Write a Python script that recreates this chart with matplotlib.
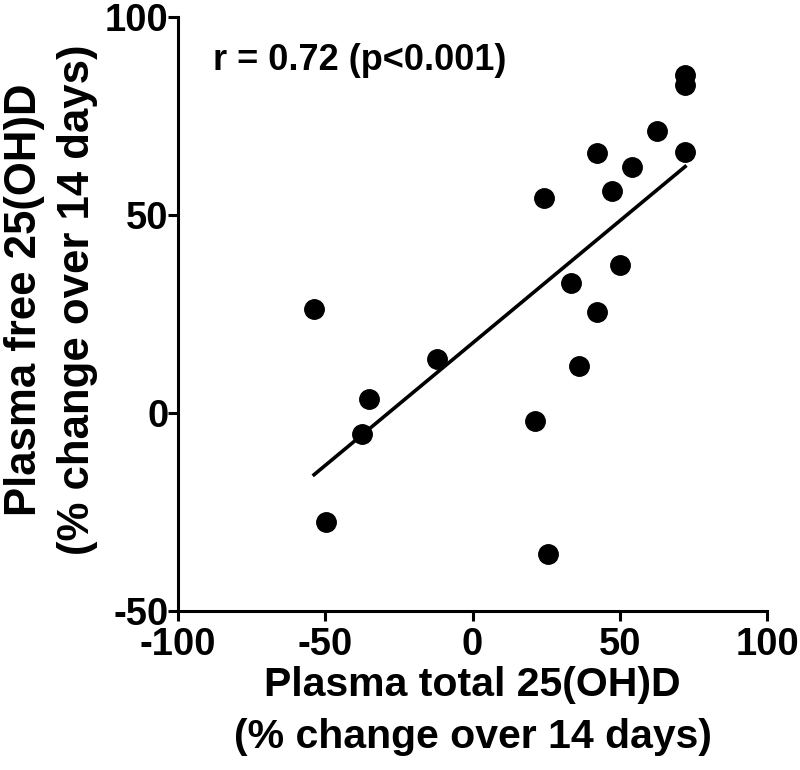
import numpy as np
import matplotlib
matplotlib.use('Agg')
import matplotlib.pyplot as plt

plt.rcParams['font.family'] = ['Liberation Sans', 'DejaVu Sans']
plt.rcParams['font.weight'] = 'bold'
plt.rcParams['axes.unicode_minus'] = False

# % change over 14 days
total_pct = [72.2, 72.2, 62.8, 72.2, 42.4, 54.3, 47.3, 24.4, 50.0, 33.5,
             42.2, -53.8, -12.0, 36.0, -35.2, -37.4, 21.2, -49.9, 25.6]
free_pct = [85.3, 82.8, 71.2, 65.9, 65.6, 62.1, 56.1, 54.4, 37.3, 32.8,
            25.6, 26.3, 13.6, 11.9, 3.6, -5.2, -2.1, -27.6, -35.6]

x_ticks = [-100, -50, 0, 50, 100]
y_ticks = [-50, 0, 50, 100]

x = np.array(total_pct)
y = np.array(free_pct)
slope, intercept = np.polyfit(x, y, 1)
xf = np.array([x.min(), x.max()])

fig = plt.figure(figsize=(8, 7.7), dpi=100)
ax = fig.add_axes([0.2225, 0.2065, 0.73625, 0.7715])

ax.plot(x, y, 'o', color='black', markersize=14, clip_on=False)
ax.plot(xf, slope * xf + intercept, color='black', linewidth=2.6)

ax.set_xlim(-100, 100)
ax.set_ylim(-50, 100)
ax.set_xticks(x_ticks)
ax.set_yticks(y_ticks)
ax.spines['top'].set_visible(False)
ax.spines['right'].set_visible(False)
for s in ['left', 'bottom']:
    ax.spines[s].set_linewidth(2.2)
ax.tick_params(width=2.2, length=7, labelsize=27.5)
ax.tick_params(axis='x', pad=4.5)
ax.tick_params(axis='y', pad=0)

ax.set_xlabel('Plasma total 25(OH)D\n(% change over 14 days)',
              fontsize=29.5, fontweight='bold', linespacing=1.47, labelpad=2)
ax.set_ylabel('Plasma free 25(OH)D\n(% change over 14 days)',
              fontsize=31.5, fontweight='bold', linespacing=1.375)
ax.yaxis.set_label_coords(-0.136, 0.524)

ax.text(-88, 86.6, 'r = 0.72 (p<0.001)', fontsize=26, fontweight='bold',
        va='baseline', ha='left')

fig.savefig('out.png', dpi=100)
